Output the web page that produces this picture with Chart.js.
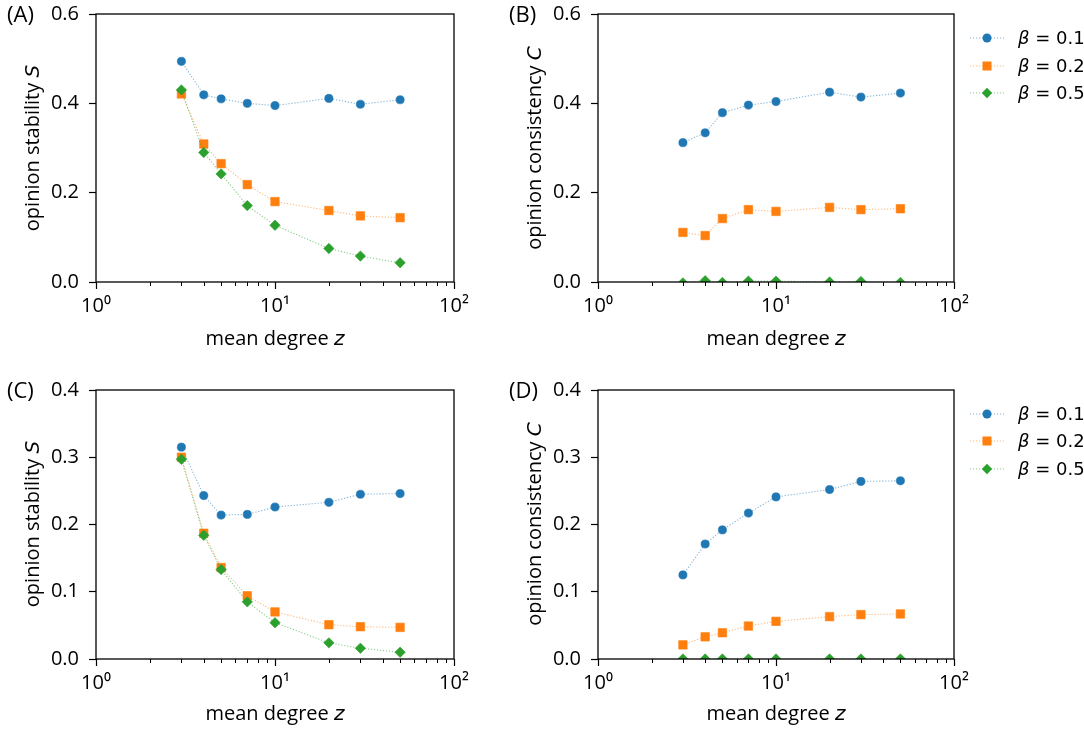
<!DOCTYPE html>
<html>
<head>
<meta charset="utf-8">
<script src="https://cdn.jsdelivr.net/npm/chart.js@4/dist/chart.umd.min.js"></script>
<style>
  html, body { margin: 0; padding: 0; background: #fff; }
  #fig { position: relative; width: 1084px; height: 730px; overflow: hidden; font-family: 'Open Sans', 'DejaVu Sans', sans-serif; color: #000; }
  canvas { position: absolute; }
  .lbl { position: absolute; font-size: 22px; line-height: 22px; white-space: nowrap; }
  .ytitle { position: absolute; font-size: 20px; line-height: 20px; white-space: nowrap; transform: translate(-50%, -50%) rotate(-90deg); }
  .xtitle { position: absolute; font-size: 20px; line-height: 20px; white-space: nowrap; transform: translate(-50%, -50%); }
  .math { font-family: 'DejaVu Sans', sans-serif; font-style: italic; }
  .leg { position: absolute; font-family: 'DejaVu Sans', sans-serif; font-size: 18px; line-height: 18px; white-space: nowrap; }
  .leg svg { position: absolute; left: 0; top: -9px; }
  .leg span { position: absolute; top: -9px; }
</style>
</head>
<body>
<div id="fig">
  <canvas id="cA" width="484" height="386" style="left:0;top:-16px;width:484px;height:386px"></canvas>
  <canvas id="cB" width="484" height="386" style="left:500px;top:-16px;width:484px;height:386px"></canvas>
  <canvas id="cC" width="484" height="370" style="left:0;top:360px;width:484px;height:370px"></canvas>
  <canvas id="cD" width="484" height="370" style="left:500px;top:360px;width:484px;height:370px"></canvas>

  <div class="lbl" style="left:7px;top:2px">(A)</div>
  <div class="lbl" style="left:509px;top:2px">(B)</div>
  <div class="lbl" style="left:7px;top:378px">(C)</div>
  <div class="lbl" style="left:509px;top:378px">(D)</div>

  <div class="ytitle" style="left:32px;top:148px">opinion stability <span class="math">S</span></div>
  <div class="ytitle" style="left:534px;top:148px">opinion consistency <span class="math">C</span></div>
  <div class="ytitle" style="left:32px;top:524px">opinion stability <span class="math">S</span></div>
  <div class="ytitle" style="left:534px;top:524px">opinion consistency <span class="math">C</span></div>

  <div class="xtitle" style="left:275px;top:338px">mean degree <span class="math">z</span></div>
  <div class="xtitle" style="left:776px;top:338px">mean degree <span class="math">z</span></div>
  <div class="xtitle" style="left:275px;top:713px">mean degree <span class="math">z</span></div>
  <div class="xtitle" style="left:776px;top:713px">mean degree <span class="math">z</span></div>

  <div id="legB"></div>
  <div id="legD"></div>
</div>

<script>
// ---------------- data ----------------
const meanDegree = [3, 4, 5, 7, 10, 20, 30, 50];
const betaLabels = ['0.1', '0.2', '0.5'];
const xTickValues = [1, 10, 100];
const xTickLabels = ['10\u2070', '10\u00B9', '10\u00B2'];
const yTicksTop = [0.0, 0.2, 0.4, 0.6];
const yTicksBottom = [0.0, 0.1, 0.2, 0.3, 0.4];

// (A) opinion stability S
const stabA_b01 = [0.494, 0.419, 0.410, 0.400, 0.395, 0.411, 0.398, 0.408];
const stabA_b02 = [0.421, 0.309, 0.265, 0.218, 0.180, 0.160, 0.148, 0.144];
const stabA_b05 = [0.430, 0.290, 0.242, 0.171, 0.127, 0.075, 0.058, 0.043];
// (B) opinion consistency C
const consB_b01 = [0.312, 0.334, 0.379, 0.396, 0.404, 0.425, 0.414, 0.423];
const consB_b02 = [0.111, 0.104, 0.142, 0.162, 0.158, 0.167, 0.162, 0.164];
const consB_b05 = [-0.002, 0.003, -0.001, 0.002, 0.002, 0.000, 0.001, -0.001];
// (C) opinion stability S
const stabC_b01 = [0.315, 0.243, 0.214, 0.215, 0.226, 0.233, 0.245, 0.246];
const stabC_b02 = [0.300, 0.187, 0.136, 0.094, 0.070, 0.051, 0.048, 0.047];
const stabC_b05 = [0.297, 0.184, 0.133, 0.085, 0.054, 0.024, 0.016, 0.010];
// (D) opinion consistency C
const consD_b01 = [0.125, 0.171, 0.192, 0.217, 0.241, 0.252, 0.264, 0.265];
const consD_b02 = [0.021, 0.033, 0.039, 0.049, 0.056, 0.063, 0.066, 0.067];
const consD_b05 = [0.000, 0.000, 0.000, 0.000, 0.000, 0.000, 0.000, 0.000];

// ---------------- styles ----------------
const colors = ['#1f77b4', '#ff7f0e', '#2ca02c'];
const lineColors = ['rgba(31,119,180,0.55)', 'rgba(255,127,14,0.55)', 'rgba(44,160,44,0.55)'];
const pStyles = ['circle', 'rect', 'rectRot'];
const pRadius = [4.1, 6.0, 5.2];

Chart.defaults.font.family = "'Open Sans', 'DejaVu Sans', sans-serif";
Chart.defaults.font.size = 20;
Chart.defaults.color = '#000';
Chart.defaults.animation = false;

const framePlugin = {
  id: 'frame',
  afterDatasetsDraw(chart) {
    const { ctx, chartArea: a, scales } = chart;
    ctx.save();
    ctx.strokeStyle = '#000';
    ctx.lineWidth = 1;
    const xs = scales.x;
    for (const dec of [1, 10]) {
      for (let k = 2; k <= 9; k++) {
        const px = Math.round(xs.getPixelForValue(dec * k)) + 0.5;
        ctx.beginPath();
        ctx.moveTo(px, a.bottom);
        ctx.lineTo(px, a.bottom + 4);
        ctx.stroke();
      }
    }
    ctx.lineWidth = 1.3;
    ctx.strokeRect(Math.round(a.left), Math.round(a.top), Math.round(a.right - a.left), Math.round(a.bottom - a.top));
    ctx.restore();
  }
};

function makeDatasets(series) {
  return series.map((vals, i) => ({
    label: '\u03B2 = ' + betaLabels[i],
    data: meanDegree.map((z, j) => ({ x: z, y: vals[j] })),
    borderColor: lineColors[i],
    backgroundColor: colors[i],
    borderWidth: 1.1,
    borderDash: [1.2, 1.8],
    pointStyle: pStyles[i],
    pointRadius: pRadius[i],
    pointHoverRadius: pRadius[i],
    pointBackgroundColor: colors[i],
    pointBorderColor: colors[i],
    pointBorderWidth: 0.6,
    tension: 0,
    clip: 0,
    order: 2 - i
  }));
}

function makeChart(id, series, yMax, yTicks, yAxisWidth, xAxisHeight) {
  new Chart(document.getElementById(id), {
    type: 'line',
    data: { datasets: makeDatasets(series) },
    options: {
      responsive: false,
      animation: false,
      events: [],
      layout: { padding: { top: 30, right: 30, left: 0, bottom: 0 } },
      plugins: { legend: { display: false }, tooltip: { enabled: false } },
      scales: {
        x: {
          type: 'logarithmic',
          min: 1, max: 100,
          afterBuildTicks: (s) => { s.ticks = xTickValues.map(v => ({ value: v, major: true })); },
          afterFit: (s) => { s.height = xAxisHeight; },
          ticks: {
            autoSkip: false, maxRotation: 0, padding: 5,
            callback: (v) => { const k = xTickValues.indexOf(v); return k >= 0 ? xTickLabels[k] : ''; }
          },
          grid: { drawOnChartArea: false, drawTicks: true, tickLength: 7, tickColor: '#000', tickWidth: 1.2 },
          border: { display: false }
        },
        y: {
          type: 'linear',
          min: 0, max: yMax,
          afterBuildTicks: (s) => { s.ticks = yTicks.map(v => ({ value: v })); },
          afterFit: (s) => { s.width = yAxisWidth; },
          ticks: { padding: 10, callback: (v) => Number(v).toFixed(1) },
          grid: { drawOnChartArea: false, drawTicks: true, tickLength: 7, tickColor: '#000', tickWidth: 1.2 },
          border: { display: false }
        }
      }
    },
    plugins: [framePlugin]
  });
}

makeChart('cA', [stabA_b01, stabA_b02, stabA_b05], 0.6, yTicksTop, 96, 88);
makeChart('cB', [consB_b01, consB_b02, consB_b05], 0.6, yTicksTop, 98, 88);
makeChart('cC', [stabC_b01, stabC_b02, stabC_b05], 0.4, yTicksBottom, 96, 71);
makeChart('cD', [consD_b01, consD_b02, consD_b05], 0.4, yTicksBottom, 98, 71);

// ---------------- legends (HTML) ----------------
function markerSvg(i) {
  const c = colors[i];
  let m;
  if (i === 0) m = `<circle cx="17" cy="9" r="4.5" fill="${c}"/>`;
  else if (i === 1) m = `<rect x="12.5" y="4.5" width="9" height="9" fill="${c}"/>`;
  else m = `<polygon points="17,3.8 22.2,9 17,14.2 11.8,9" fill="${c}"/>`;
  return `<svg width="34" height="18"><line x1="0" y1="9" x2="34" y2="9" stroke="${lineColors[i]}" stroke-width="1.1" stroke-dasharray="1.2 1.8"/>${m}</svg>`;
}
function buildLegend(el, rowsY) {
  let html = '';
  betaLabels.forEach((b, i) => {
    html += `<div class="leg" style="left:970px;top:${rowsY[i]}px">${markerSvg(i)}<span style="left:48px"><i>\u03B2</i> = ${b}</span></div>`;
  });
  el.innerHTML = html;
}
buildLegend(document.getElementById('legB'), [38, 65.5, 93]);
buildLegend(document.getElementById('legD'), [414, 441, 469]);
</script>
</body>
</html>
